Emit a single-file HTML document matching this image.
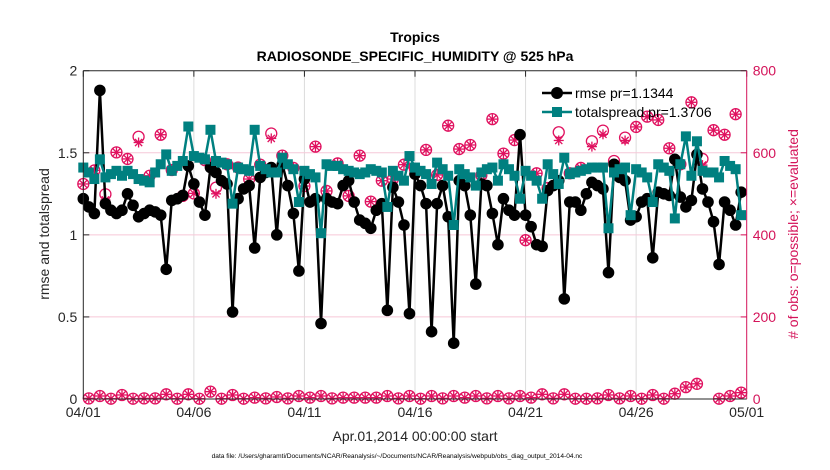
<!DOCTYPE html>
<html><head><meta charset="utf-8">
<style>
html,body{margin:0;padding:0;background:#fff;}
svg{display:block;font-family:"Liberation Sans",sans-serif;}
</style></head>
<body>
<svg id="chart" width="830" height="470" viewBox="0 0 830 470" xmlns="http://www.w3.org/2000/svg">
<g id="grid"></g>
<g id="series"></g>
<g id="axes"></g>
<text x="415" y="42" text-anchor="middle" font-size="14" font-weight="bold" fill="#000">Tropics</text>
<text x="415" y="61" text-anchor="middle" font-size="14" font-weight="bold" fill="#000">RADIOSONDE_SPECIFIC_HUMIDITY @ 525 hPa</text>
<text x="415" y="441" text-anchor="middle" font-size="14" fill="#262626">Apr.01,2014 00:00:00 start</text>
<text transform="translate(49,234) rotate(-90)" text-anchor="middle" font-size="14" fill="#262626">rmse and totalspread</text>
<text transform="translate(798,234) rotate(-90)" text-anchor="middle" font-size="14" fill="#d4145a"># of obs: o=possible; ×=evaluated</text>
<text x="397" y="458" text-anchor="middle" font-size="6.6" fill="#000">data file: /Users/gharamti/Documents/NCAR/Reanalysis/~/Documents/NCAR/Reanalysis/webpub/obs_diag_output_2014-04.nc</text>
<g>
<line x1="542" y1="93" x2="572" y2="93" stroke="#000" stroke-width="2.5"/>
<circle cx="557" cy="93" r="6" fill="#000"/>
<text x="575" y="98" font-size="14" fill="#000">rmse pr=1.1344</text>
<line x1="542" y1="112" x2="572" y2="112" stroke="#008080" stroke-width="2.5"/>
<rect x="552" y="107" width="10" height="10" fill="#008080"/>
<text x="575" y="117" font-size="14" fill="#000">totalspread pr=1.3706</text>
</g>
</svg>
<script>
const rmse=[1.22,1.17,1.13,1.88,1.19,1.15,1.13,1.15,1.25,1.18,1.11,1.13,1.15,1.14,1.12,0.79,1.21,1.22,1.24,1.42,1.31,1.2,1.12,1.41,1.38,1.33,1.31,0.53,1.22,1.28,1.30,0.92,1.35,1.38,1.41,1.00,1.43,1.3,1.13,0.78,1.34,1.2,1.22,0.46,1.22,1.2,1.19,1.3,1.33,1.2,1.09,1.07,1.04,1.15,1.19,0.54,1.29,1.2,1.06,0.52,1.37,1.3,1.19,0.41,1.19,1.3,1.11,0.34,1.33,1.3,1.12,0.70,1.31,1.3,1.13,0.94,1.22,1.15,1.12,1.61,1.12,1.05,0.94,0.93,1.27,1.3,1.33,0.61,1.20,1.2,1.15,1.25,1.32,1.3,1.28,0.77,1.43,1.35,1.33,1.09,1.11,1.2,1.22,0.86,1.26,1.25,1.24,1.46,1.23,1.17,1.21,1.49,1.28,1.2,1.08,0.82,1.20,1.15,1.06,1.26];
const spread=[1.41,1.38,1.34,1.46,1.35,1.37,1.39,1.36,1.39,1.37,1.34,1.33,1.32,1.38,1.43,1.49,1.39,1.42,1.45,1.66,1.48,1.47,1.46,1.64,1.45,1.44,1.43,1.19,1.41,1.40,1.39,1.64,1.42,1.40,1.38,1.38,1.47,1.43,1.40,1.20,1.39,1.37,1.35,1.01,1.43,1.42,1.42,1.40,1.39,1.38,1.37,1.38,1.40,1.39,1.38,1.17,1.39,1.36,1.33,1.48,1.41,1.39,1.37,1.31,1.44,1.40,1.36,1.06,1.40,1.37,1.35,1.30,1.38,1.40,1.41,1.33,1.43,1.40,1.36,1.22,1.39,1.36,1.33,1.22,1.43,1.37,1.31,1.47,1.37,1.38,1.39,1.40,1.41,1.41,1.41,1.04,1.38,1.40,1.41,1.12,1.40,1.38,1.35,1.20,1.43,1.41,1.39,1.10,1.43,1.60,1.36,1.57,1.39,1.38,1.38,1.35,1.45,1.42,1.40,1.12];
const obsHigh=[524,557,499,601,585,639,544,644,558,495,501,582,515,572,564,536,571,647,593,563,519,615,507,574,495,593,481,532,536,571,560,607,546,666,609,619,545,682,598,631,387,550,514,650,550,563,628,654,580,637,663,688,680,611,572,723,585,655,644,694];
const obsLow=[1.6,7.3,0.7,9.8,0.7,1.6,1.6,11.4,0.7,11.4,0.7,17.9,0.7,9.8,0.7,3.3,1.6,4.9,1.6,7.3,3.3,7.3,1.6,3.3,3.3,3.3,3.3,7.3,1.6,7.3,0.7,7.3,1.6,7.3,3.3,7.3,1.6,7.3,1.6,7.3,3.3,11.4,1.6,11.4,0.7,0.7,1.6,9.8,1.6,7.3,0.7,9.8,0.7,12.9,29,37,null,0.7,7.3,15.5];
const evalHigh=[524,557,485,601,585,625,544,644,558,495,501,582,500,572,564,536,571,635,593,563,519,615,507,574,495,593,481,532,536,571,560,607,546,666,609,619,545,682,598,631,387,550,514,630,550,563,615,645,560,630,663,688,680,611,572,723,570,655,644,694];
const evalLow=obsLow.slice();
const xTickLabels=["04/01","04/06","04/11","04/16","04/21","04/26","05/01"];
const xTickDays=[0,5,10,15,20,25,30];
const yLeftTicks=[0,0.5,1,1.5,2];
const yRightTicks=[0,200,400,600,800];

const X0=83.3,X1=746.7,Y0=399,Y1=70.7,NS="http://www.w3.org/2000/svg";
const xDay=d=>X0+(X1-X0)*d/30;
const xIdx=i=>xDay(i*0.25);
const yL=v=>Y0-(Y0-Y1)*v/2;
const yR=v=>Y0-(Y0-Y1)*v/800;
function mk(tag,attrs,parent){const e=document.createElementNS(NS,tag);for(const k in attrs)e.setAttribute(k,attrs[k]);parent.appendChild(e);return e;}
const grid=document.getElementById('grid'),ser=document.getElementById('series'),ax=document.getElementById('axes');

xTickDays.forEach((d,i)=>{const x=xDay(d);
 if(i>0&&i<xTickDays.length-1){const g=mk('line',{x1:x,x2:x,y1:Y1,y2:Y0,stroke:'#dcdcdc','stroke-width':1},grid);
 
 }
 const t=mk('text',{x:x,y:Y0+18,'text-anchor':'middle','font-size':14,fill:'#262626'},ax);t.textContent=xTickLabels[i];
 
 
 const tk=mk('line',{x1:x,x2:x,y1:Y1,y2:Y1+6,stroke:'#262626'},ax);
 
 
});
yLeftTicks.forEach(v=>{const y=yL(v);
 if(v>0&&v<2){const g=mk('line',{x1:X0,x2:X1,y1:y,y2:y,stroke:'#f6c8d8','stroke-width':1},grid);
 
 }
 const t=mk('text',{x:X0-6,y:y+5,'text-anchor':'end','font-size':14,fill:'#262626'},ax);t.textContent=String(v);
 
 
 const tk=mk('line',{x1:X0,x2:X0+6,y1:y,y2:y,stroke:'#262626'},ax);
 
 
});
yRightTicks.forEach(v=>{const y=yR(v);
 const t=mk('text',{x:X1+6,y:y+5,'text-anchor':'start','font-size':14,fill:'#d4145a'},ax);t.textContent=String(v);
 
 
 const tk=mk('line',{x1:X1-6,x2:X1,y1:y,y2:y,stroke:'#d4145a'},ax);
 
 
});
let e;
e=mk('line',{x1:X0,x2:X1,y1:Y1,y2:Y1,stroke:'#262626'},ax);


e=mk('line',{x1:X0,x2:X1,y1:Y0,y2:Y0,stroke:'#262626'},ax);


e=mk('line',{x1:X0,x2:X0,y1:Y1,y2:Y0,stroke:'#262626'},ax);


e=mk('line',{x1:X1,x2:X1,y1:Y1,y2:Y0,stroke:'#d4145a'},ax);



const MAG='#e0115f';
function obsMarker(x,y,name){
 const g=mk('g',{},ser);
 
 
 mk('circle',{cx:x,cy:y,r:5.5,fill:'none',stroke:MAG,'stroke-width':1.3},g);
}
function evalMarker(x,y,name){
 const g=mk('g',{stroke:MAG,'stroke-width':1.3},ser);
 
 
 mk('line',{x1:x-5,x2:x+5,y1:y,y2:y},g);
 mk('line',{x1:x,x2:x,y1:y-5,y2:y+5},g);
 mk('line',{x1:x-3.6,x2:x+3.6,y1:y-3.6,y2:y+3.6},g);
 mk('line',{x1:x-3.6,x2:x+3.6,y1:y+3.6,y2:y-3.6},g);
}
obsHigh.forEach((v,k)=>{if(v!=null)obsMarker(xIdx(2*k),yR(v),'possible-obs-point');});
obsLow.forEach((v,k)=>{if(v!=null)obsMarker(xIdx(2*k+1),yR(v),'possible-obs-point');});
evalHigh.forEach((v,k)=>{if(v!=null)evalMarker(xIdx(2*k),yR(v),'evaluated-obs-point');});
evalLow.forEach((v,k)=>{if(v!=null)evalMarker(xIdx(2*k+1),yR(v),'evaluated-obs-point');});

e=mk('polyline',{points:rmse.map((v,i)=>xIdx(i)+','+yL(v)).join(' '),fill:'none',stroke:'#000','stroke-width':2.5},ser);


rmse.forEach((v,i)=>{const c=mk('circle',{cx:xIdx(i),cy:yL(v),r:5.8,fill:'#000'},ser);
 
 });
e=mk('polyline',{points:spread.map((v,i)=>xIdx(i)+','+yL(v)).join(' '),fill:'none',stroke:'#008080','stroke-width':2.5},ser);


spread.forEach((v,i)=>{const r=mk('rect',{x:xIdx(i)-5,y:yL(v)-5,width:10,height:10,fill:'#008080'},ser);
 
 });
</script>
</body></html>
